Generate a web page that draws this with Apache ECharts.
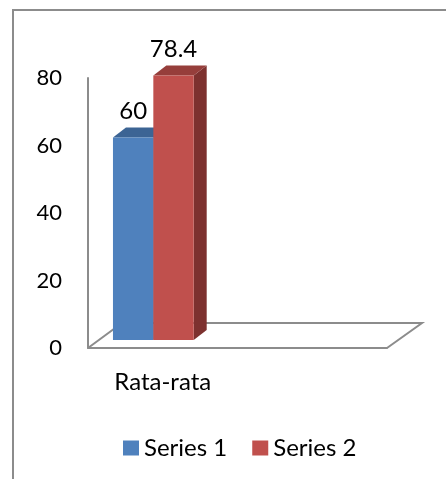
<!DOCTYPE html>
<html>
<head>
<meta charset="UTF-8">
<title></title>
<script src="https://cdn.jsdelivr.net/npm/echarts@6/dist/echarts.min.js"></script>
<style>
  html, body { margin: 0; padding: 0; background: #fff; }
  #chart { width: 446px; height: 479px; }
</style>
</head>
<body>
<div id="chart"></div>
<script>
// data
var categories = ['Rata-rata', ''];
var seriesNames = ['Series 1', 'Series 2'];
var series1 = [60];
var series2 = [78.4];
var yTicks = { min: 0, max: 80, step: 20 };

var FONT = 'Lato';
var DEPTH_X = 13, DEPTH_Y = 10;   // bar depth
var LIFT = 8;                     // bars sit a bit behind the front edge of the floor
var faces = [
  { front: '#4F81BD', top: '#3C6494', side: '#3A5F8C' },
  { front: '#C0504D', top: '#963E3B', side: '#7D312F' }
];

function barRender(k) {
  return function (params, api) {
    var ci = api.value(0), v = api.value(1);
    var band = api.size([1, 0])[0];
    var bw = band * 0.27;
    var center = api.coord([ci, 0])[0];
    var x0 = center - band * 0.333 + k * bw;
    var base = api.coord([ci, 0])[1] - LIFT;
    var top = api.coord([ci, v])[1] - LIFT;
    var f = faces[k];
    return {
      type: 'group',
      children: [
        { type: 'polygon', shape: { points: [[x0 + bw, top], [x0 + bw + DEPTH_X, top - DEPTH_Y], [x0 + bw + DEPTH_X, base - DEPTH_Y], [x0 + bw, base]] }, style: { fill: f.side } },
        { type: 'polygon', shape: { points: [[x0, top], [x0 + bw, top], [x0 + bw + DEPTH_X, top - DEPTH_Y], [x0 + DEPTH_X, top - DEPTH_Y]] }, style: { fill: f.top } },
        { type: 'rect', shape: { x: x0, y: top, width: bw, height: base - top }, style: { fill: f.front } },
        { type: 'text', style: { text: String(v), x: x0 + bw / 2, y: top - DEPTH_Y - 4, align: 'center', verticalAlign: 'bottom', fill: '#000', font: '24px ' + FONT } }
      ]
    };
  };
}

function floorRender(params, api) {
  var cs = params.coordSys;
  var b = cs.y + cs.height, l = cs.x, r = cs.x + cs.width;
  return {
    type: 'polyline',
    shape: { points: [[l, b], [l + 34, b - 25], [r + 35, b - 25], [r, b]] },
    style: { stroke: '#8C8C8C', lineWidth: 2, fill: null }
  };
}

var chart = echarts.init(document.getElementById('chart'));
chart.setOption({
  backgroundColor: '#fff',
  animation: false,
  textStyle: { fontFamily: FONT },
  graphic: [{
    type: 'rect', silent: true, z: -1,
    shape: { x: 13, y: 10, width: 500, height: 500 },
    style: { stroke: '#8C8C8C', lineWidth: 2, fill: null }
  }],
  grid: { left: 88, right: 59, top: 78, bottom: 131 },
  legend: {
    data: seriesNames,
    left: 118, top: 431,
    itemWidth: 16, itemHeight: 15, itemGap: 25,
    icon: 'rect',
    textStyle: { fontSize: 24, color: '#000', fontFamily: FONT }
  },
  xAxis: {
    type: 'category',
    data: categories,
    axisLine: { lineStyle: { color: '#8C8C8C', width: 2 } },
    axisTick: { show: false },
    axisLabel: { fontSize: 24, color: '#000', margin: 22, fontFamily: FONT }
  },
  yAxis: {
    type: 'value',
    min: yTicks.min, max: yTicks.max, interval: yTicks.step,
    axisLine: { show: true, lineStyle: { color: '#8C8C8C', width: 2 } },
    axisTick: { show: false },
    splitLine: { show: false },
    axisLabel: { fontSize: 22, color: '#000', margin: 26, fontFamily: FONT }
  },
  series: [
    { name: 'floor', type: 'custom', silent: true, z: 1, data: [[0, 0]], renderItem: floorRender },
    { name: seriesNames[0], type: 'custom', z: 2, itemStyle: { color: faces[0].front },
      data: series1.map(function (v, i) { return [i, v]; }), renderItem: barRender(0) },
    { name: seriesNames[1], type: 'custom', z: 3, itemStyle: { color: faces[1].front },
      data: series2.map(function (v, i) { return [i, v]; }), renderItem: barRender(1) }
  ]
});
</script>
</body>
</html>
